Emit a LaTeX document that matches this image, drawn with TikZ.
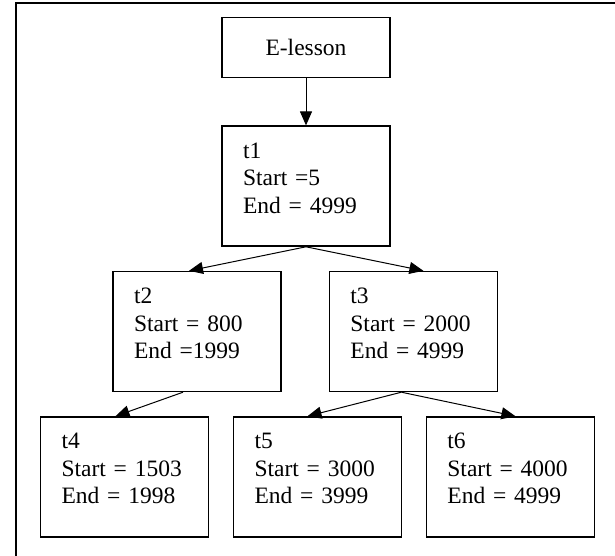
\documentclass[tikz,border=0pt]{standalone}
\usepackage{fontspec}
\setmainfont{Liberation Serif}
\usetikzlibrary{positioning, arrows.meta, calc}

\begin{document}
\begin{tikzpicture}[
  x=1pt, y=-1pt,
  lesson/.style={draw, line width=1.4pt, minimum width=168pt, minimum height=60pt, inner sep=0pt, font=\fontsize{23.5}{27.5}\selectfont},
  task/.style={draw, line width=1.4pt, align=left, text width=126pt, inner xsep=21pt, inner ysep=0pt, text height=32pt, text depth=88pt, font=\fontsize{23.5}{27.5}\selectfont},
  arr/.style={-{Triangle[length=14pt, width=12pt]}, line width=1pt},
  frame/.style={line width=2pt}
]
  \useasboundingbox (0,0) rectangle (615,556);
  \coordinate (fbl) at (15.7,556);
  \coordinate (ftl) at (15.7,3.3);
  \coordinate (ftr) at (615,3.3);
  \draw[frame] (fbl) -- (ftl) -- (ftr);

  \node[lesson] (elesson) at (306,47.7) {E-lesson};
  \node[task, below=47pt of elesson] (t1) {t1\\Start =5\\End = 4999};
  \node[task, below=24pt of t1, xshift=-109pt] (t2) {t2\\Start = 800\\End =1999};
  \node[task, right=47pt of t2] (t3) {t3\\Start = 2000\\End = 4999};
  \node[task, below=24pt of t2, xshift=-72.5pt] (t4) {t4\\Start = 1503\\End = 1998};
  \node[task, right=23.6pt of t4] (t5) {t5\\Start = 3000\\End = 3999};
  \node[task, right=23.5pt of t5] (t6) {t6\\Start = 4000\\End = 4999};

  \draw[arr] (elesson) -- (t1);
  \draw[arr] (t1.south) -- ($(t2.north)+(-8,0)$);
  \draw[arr] (t1.south) -- ($(t3.north)+(10,0)$);
  \draw[arr] ($(t2.south)+(-14,0)$) -- ($(t4.north)+(-9,0)$);
  \draw[arr] ($(t3.south)+(-12,0)$) -- ($(t5.north)+(-10,0)$);
  \draw[arr] ($(t3.south)+(-12,0)$) -- ($(t6.north)+(5,0)$);
\end{tikzpicture}
\end{document}
